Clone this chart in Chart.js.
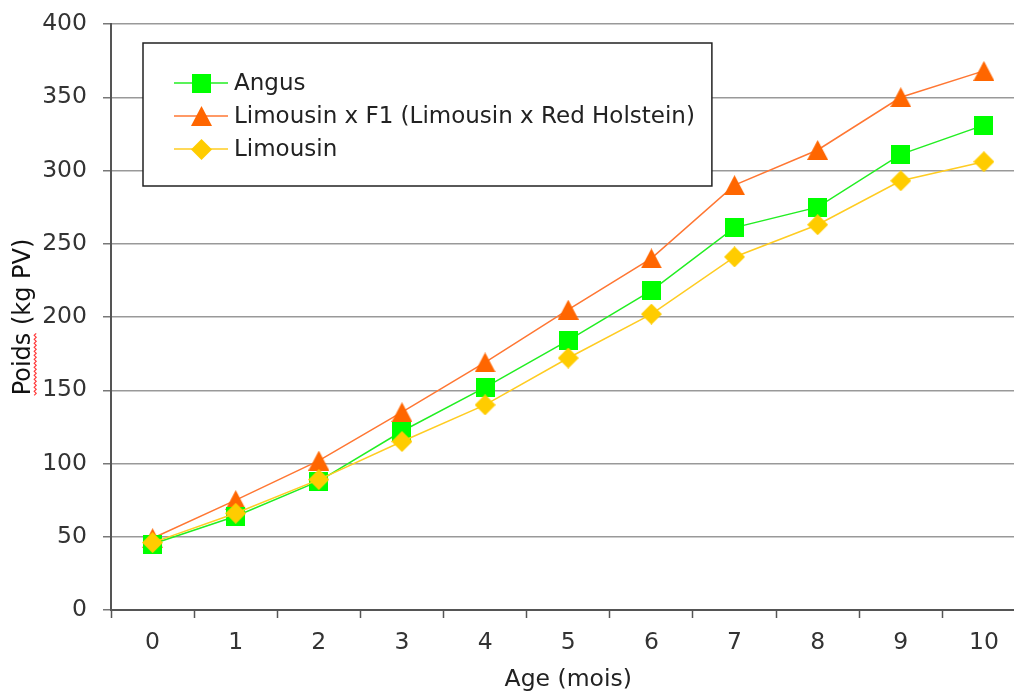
<!DOCTYPE html>
<html>

<head>
    <meta charset="utf-8">
    <script src="https://cdn.jsdelivr.net/npm/chart.js@4.4.0/dist/chart.umd.min.js"></script>
    <title>Poids (kg PV)</title>
    <style>
        html, body { margin: 0; padding: 0; background: #fff; overflow: hidden; }
        #wrap { width: 1037px; height: 700px; }
    </style>
</head>

<body>
    <div id="wrap"><canvas id="chart" width="1037" height="700"></canvas></div>
    <script>
        // donnees
        const ages = ['0', '1', '2', '3', '4', '5', '6', '7', '8', '9', '10'];
        const angus = [45, 64, 88, 122, 152, 184, 218, 261, 275, 311, 331];
        const limousinF1 = [49, 75, 102, 135, 169, 205, 240, 290, 314, 350, 368];
        const limousin = [46, 66, 89, 115, 140, 172, 202, 241, 263, 293, 306];
        const names = ['Angus', 'Limousin x F1 (Limousin x Red Holstein)', 'Limousin'];

        const FONT = '"DejaVu Sans", Verdana, sans-serif';
        const FS = 23.5;

        // marqueurs dessines a la main (triangle centre sur sa boite, comme Excel)
        function marker(shape, color, w, h) {
            const c = document.createElement('canvas');
            c.width = w; c.height = h;
            const g = c.getContext('2d');
            g.fillStyle = color;
            g.beginPath();
            if (shape === 'square') {
                g.rect(0, 0, w, h);
            } else if (shape === 'triangle') {
                g.moveTo(w / 2, 0); g.lineTo(w, h); g.lineTo(0, h); g.closePath();
            } else {
                g.moveTo(w / 2, 0); g.lineTo(w, h / 2); g.lineTo(w / 2, h); g.lineTo(0, h / 2); g.closePath();
            }
            g.fill();
            return c;
        }

        const boxLegend = {
            id: 'boxLegend',
            afterDatasetsDraw(chart) {
                const ctx = chart.ctx, area = chart.chartArea;
                const x0 = area.left + 32, y0 = area.top + 19;
                ctx.save();
                ctx.font = '23px ' + FONT;
                let maxW = 0;
                chart.data.datasets.forEach(d => { maxW = Math.max(maxW, ctx.measureText(d.label).width); });
                const w = 91 + maxW + 17, h = 143;
                ctx.fillStyle = '#fff';
                ctx.fillRect(x0, y0, w, h);
                ctx.strokeStyle = '#222';
                ctx.lineWidth = 1.5;
                ctx.strokeRect(x0, y0, w, h);
                chart.data.datasets.forEach((d, i) => {
                    const y = y0 + 40 + i * 33;
                    ctx.strokeStyle = d.borderColor;
                    ctx.lineWidth = d.borderWidth;
                    ctx.beginPath();
                    ctx.moveTo(x0 + 31, y);
                    ctx.lineTo(x0 + 85, y);
                    ctx.stroke();
                    const m = d.pointStyle;
                    ctx.drawImage(m, Math.round(x0 + 58 - m.width / 2), Math.round(y - m.height / 2));
                    ctx.fillStyle = '#222';
                    ctx.textBaseline = 'middle';
                    ctx.fillText(d.label, x0 + 91, y + 1);
                });
                ctx.restore();
            }
        };

        // soulignement rouge ondule (correcteur) sous "Poids"
        const squiggle = {
            id: 'squiggle',
            afterDraw(chart) {
                const s = chart.scales.y, ctx = chart.ctx;
                const t = s.options.title;
                ctx.save();
                ctx.font = t.font.size + 'px ' + FONT;
                const full = ctx.measureText(t.text).width;
                const word = ctx.measureText('Poids').width;
                const cy = (chart.chartArea.top + chart.chartArea.bottom) / 2;
                const yStart = cy + full / 2, yEnd = yStart - word;
                const x = s.left + t.padding.top + t.font.size * 1.2 / 2 + t.font.size * 0.45;
                ctx.strokeStyle = '#ff3b3b';
                ctx.lineWidth = 1.2;
                ctx.beginPath();
                let k = 0;
                for (let y = yStart; y >= yEnd; y -= 2, k++) {
                    const xx = x + (k % 2 ? 2 : 0);
                    if (k === 0) ctx.moveTo(xx, y); else ctx.lineTo(xx, y);
                }
                ctx.stroke();
                ctx.restore();
            }
        };

        new Chart(document.getElementById('chart'), {
            type: 'line',
            data: {
                labels: ages,
                datasets: [{
                    label: names[0],
                    data: angus,
                    borderColor: '#22ee22',
                    backgroundColor: '#00ff00',
                    borderWidth: 1.5,
                    pointStyle: marker('square', '#00ff00', 19, 19),
                    pointRadius: 10,
                    order: 1
                }, {
                    label: names[1],
                    data: limousinF1,
                    borderColor: '#ff7733',
                    backgroundColor: '#ff6600',
                    borderWidth: 1.5,
                    pointStyle: marker('triangle', '#ff6600', 21, 20),
                    pointRadius: 10,
                    order: 2
                }, {
                    label: names[2],
                    data: limousin,
                    borderColor: '#ffcc22',
                    backgroundColor: '#ffcc00',
                    borderWidth: 1.5,
                    pointStyle: marker('diamond', '#ffcc00', 21, 21),
                    pointRadius: 10,
                    order: 0
                }]
            },
            options: {
                responsive: false,
                animation: false,
                events: [],
                layout: { padding: { top: 24, right: 5, left: 0, bottom: 0 } },
                plugins: {
                    legend: { display: false },
                    tooltip: { enabled: false }
                },
                scales: {
                    x: {
                        offset: true,
                        grid: { offset: true, drawOnChartArea: false, tickLength: 8, tickColor: '#555', tickWidth: 1.5 },
                        border: { color: '#555', width: 2 },
                        ticks: { color: '#333', font: { family: FONT, size: FS }, padding: 11 },
                        title: { display: true, text: 'Age (mois)', color: '#222', font: { family: FONT, size: FS }, padding: { top: 0, bottom: 6 } },
                        afterFit(s) { s.height = 90; s.paddingLeft = 0; s.paddingRight = 0; }
                    },
                    y: {
                        min: 0,
                        max: 400,
                        ticks: { stepSize: 50, color: '#333', font: { family: FONT, size: FS }, padding: 16 },
                        grid: { color: '#999', lineWidth: 1.5, tickLength: 8, tickColor: '#777' },
                        border: { color: '#555', width: 2 },
                        title: { display: true, text: 'Poids (kg PV)', color: '#111', font: { family: FONT, size: 24 }, padding: { top: 9, bottom: 0 } },
                        afterFit(s) { s.width = 111; s.paddingTop = 0; s.paddingBottom = 0; }
                    }
                }
            },
            plugins: [boxLegend, squiggle]
        });
    </script>
</body>

</html>
